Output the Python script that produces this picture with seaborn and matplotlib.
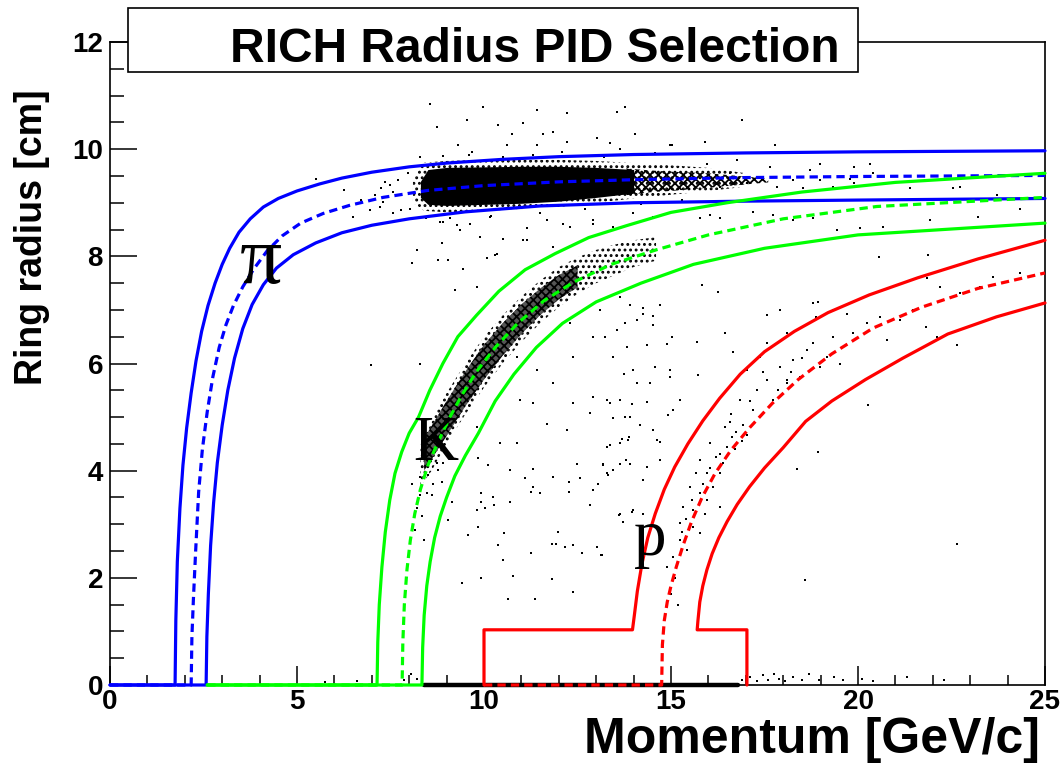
import matplotlib
matplotlib.use("Agg")
import matplotlib.pyplot as plt
from matplotlib.patches import Rectangle
import seaborn as sns

sns.set_theme(style="white")
plt.rcParams["font.family"] = ["Liberation Sans", "DejaVu Sans"]
plt.rcParams["font.weight"] = "bold"
plt.rcParams["text.color"] = "black"
plt.rcParams["xtick.color"] = "black"
plt.rcParams["ytick.color"] = "black"
plt.rcParams["axes.edgecolor"] = "black"
plt.rcParams["hatch.linewidth"] = 1.3
plt.rcParams["hatch.color"] = "black"

# ---------------- selection curves (momentum [GeV/c], ring radius [cm]) ----------------
pi_hi_p = [0, 1.74, 1.76, 1.80, 1.87, 1.95, 2.05, 2.17, 2.30, 2.45, 2.62, 2.81, 3.0, 3.2, 3.45, 3.75,
           4.1, 4.5, 5.0, 5.6, 6.2, 7.0, 8.0, 9.0, 10.5, 12.0, 14.0, 17.0, 20.0, 25.0]
pi_hi_r = [0, 0, 1.2, 2.3, 3.3, 4.1, 4.8, 5.45, 6.05, 6.6, 7.08, 7.5, 7.85, 8.15, 8.45, 8.7,
           8.92, 9.08, 9.22, 9.35, 9.46, 9.57, 9.67, 9.74, 9.81, 9.86, 9.9, 9.93, 9.95, 9.97]
pi_mid_p = [0, 2.17, 2.19, 2.23, 2.29, 2.37, 2.47, 2.6, 2.75, 2.92, 3.1, 3.3, 3.55, 3.85, 4.2, 4.6,
            5.1, 5.7, 6.4, 7.3, 8.5, 10.0, 12.0, 14.0, 17.0, 20.0, 25.0]
pi_mid_r = [0, 0, 0.9, 1.6, 2.5, 3.6, 4.4, 5.1, 5.75, 6.3, 6.72, 7.08, 7.43, 7.77, 8.1, 8.38,
            8.62, 8.8, 8.95, 9.1, 9.23, 9.32, 9.39, 9.43, 9.47, 9.49, 9.51]
pi_lo_p = [0, 2.57, 2.59, 2.63, 2.69, 2.77, 2.87, 3.0, 3.15, 3.33, 3.55, 3.8, 4.1, 4.45, 4.9, 5.5,
           6.2, 7.0, 8.0, 9.5, 11.5, 14.0, 17.0, 20.0, 25.0]
pi_lo_r = [0, 0, 0.9, 1.7, 2.6, 3.4, 4.15, 4.85, 5.5, 6.1, 6.65, 7.1, 7.47, 7.78, 8.03, 8.25,
           8.44, 8.58, 8.7, 8.83, 8.94, 9.0, 9.03, 9.05, 9.08]

k_hi_p = [2.6, 7.14, 7.16, 7.2, 7.27, 7.36, 7.48, 7.62, 7.8, 8.0, 8.25, 8.55, 8.9, 9.3, 9.8, 10.4,
          11.1, 11.9, 12.8, 13.8, 15.0, 16.5, 18.5, 21.0, 25.0]
k_hi_r = [0, 0, 0.8, 1.5, 2.2, 2.85, 3.45, 3.95, 4.35, 4.7, 5.0, 5.5, 6.0, 6.5, 6.9, 7.35,
          7.75, 8.05, 8.35, 8.57, 8.82, 9.0, 9.2, 9.38, 9.55]
k_mid_p = [2.6, 7.81, 7.83, 7.87, 7.94, 8.03, 8.15, 8.3, 8.5, 8.75, 9.05, 9.4, 9.8, 10.3, 10.9,
           11.6, 12.4, 13.4, 14.6, 16.0, 18.0, 20.5, 25.0]
k_mid_r = [0, 0, 0.8, 1.5, 2.15, 2.7, 3.2, 3.65, 4.1, 4.5, 4.95, 5.4, 5.85, 6.3, 6.75,
           7.17, 7.52, 7.85, 8.12, 8.4, 8.7, 8.93, 9.1]
k_lo_p = [2.6, 8.34, 8.36, 8.4, 8.47, 8.56, 8.68, 8.83, 9.0, 9.22, 9.5, 9.85, 10.3, 10.8, 11.4,
          12.1, 13.0, 14.2, 15.6, 17.5, 20.0, 25.0]
k_lo_r = [0, 0, 0.7, 1.3, 1.85, 2.3, 2.75, 3.15, 3.5, 3.9, 4.28, 4.7, 5.3, 5.8, 6.3,
          6.75, 7.15, 7.5, 7.85, 8.15, 8.4, 8.62]

p_hi_p = [10.0, 10.0, 13.97, 14.02, 14.1, 14.22, 14.38, 14.58, 14.82, 15.1, 15.45, 15.85, 16.3,
          16.85, 17.5, 18.3, 19.2, 20.3, 21.6, 23.2, 25.0]
p_hi_r = [0, 1.03, 1.03, 1.3, 1.75, 2.25, 2.75, 3.2, 3.65, 4.07, 4.5, 4.93, 5.35,
          5.8, 6.22, 6.6, 6.95, 7.28, 7.6, 7.95, 8.3]
p_mid_p = [10.0, 14.75, 14.77, 14.82, 14.9, 15.0, 15.14, 15.32, 15.55, 15.83, 16.18, 16.6, 17.1,
           17.7, 18.4, 19.3, 20.4, 21.7, 23.2, 25.0]
p_mid_r = [0, 0, 0.75, 1.2, 1.55, 1.85, 2.2, 2.6, 3.05, 3.5, 3.95, 4.38, 4.8,
           5.25, 5.7, 6.18, 6.66, 7.05, 7.4, 7.69]
p_lo_p = [17.03, 17.03, 15.70, 15.72, 15.77, 15.85, 15.96, 16.1, 16.28, 16.5, 16.77, 17.1, 17.5,
          18.0, 18.6, 19.3, 20.2, 21.2, 22.4, 23.7, 25.0]
p_lo_r = [0, 1.03, 1.03, 1.2, 1.55, 1.85, 2.15, 2.45, 2.75, 3.05, 3.37, 3.7, 4.05,
          4.43, 4.92, 5.3, 5.7, 6.1, 6.55, 6.87, 7.13]

# ---------------- dense event bands ----------------
pion_core_p = [8.3, 8.5, 9.0, 10.0, 11.0, 12.0, 13.0, 14.0]
pion_core_lo = [9.1, 8.97, 8.95, 8.97, 8.99, 9.03, 9.1, 9.18]
pion_core_hi = [9.4, 9.62, 9.66, 9.67, 9.68, 9.68, 9.66, 9.62]
pion_tail_p = [13.8, 14.5, 15.0, 16.0, 16.8, 17.6]
pion_tail_lo = [9.14, 9.2, 9.22, 9.28, 9.33, 9.38]
pion_tail_hi = [9.64, 9.6, 9.58, 9.55, 9.5, 9.45]
pion_halo_p = [8.1, 8.4, 9.0, 10.0, 11.0, 12.0, 13.0, 14.0, 15.0, 16.0, 17.0]
pion_halo_lo = [9.0, 8.85, 8.82, 8.85, 8.88, 8.92, 9.0, 9.08, 9.15, 9.22, 9.3]
pion_halo_hi = [9.45, 9.75, 9.78, 9.8, 9.8, 9.8, 9.78, 9.74, 9.7, 9.65, 9.55]

kaon_band_p = [8.3, 8.6, 9.0, 9.5, 10.0, 10.5, 11.0, 11.5, 12.0, 12.5, 13.0, 13.5, 14.0, 14.6]
kaon_band_lo = [3.7, 4.0, 4.5, 5.05, 5.55, 6.0, 6.4, 6.75, 7.05, 7.3, 7.5, 7.65, 7.8, 7.92]
kaon_band_hi = [4.5, 4.95, 5.45, 6.0, 6.5, 6.9, 7.25, 7.55, 7.8, 7.98, 8.12, 8.22, 8.3, 8.36]
kaon_core_p = [8.4, 9.0, 9.5, 10.0, 10.5, 11.0, 11.5, 12.0, 12.5]
kaon_core_lo = [4.0, 4.65, 5.2, 5.7, 6.15, 6.55, 6.9, 7.2, 7.42]
kaon_core_hi = [4.6, 5.3, 5.85, 6.35, 6.75, 7.1, 7.4, 7.65, 7.83]

# events with no reconstructed ring
no_ring_span = [8.4, 16.8]

# ---------------- individual events ----------------
upper_events = [
    (8.56, 10.85), (9.98, 10.79), (11.41, 10.73), (12.21, 10.67), (13.55, 10.70), (13.77, 10.79),
    (16.89, 10.54), (8.73, 10.42), (9.54, 10.54), (10.38, 10.45), (11.05, 10.48), (11.85, 10.32),
    (10.74, 10.29), (11.59, 10.29), (14.04, 10.29), (13.01, 10.20), (10.61, 10.07), (11.41, 10.07),
    (12.21, 10.14), (13.37, 10.11), (14.97, 10.07), (15.91, 10.14), (17.78, 10.07), (9.31, 10.07),
    (9.67, 9.95), (12.08, 9.95), (13.64, 10.01), (14.57, 9.92), (15.02, 10.07), (20.32, 9.73),
    (19.88, 9.67), (22.73, 9.30), (23.71, 9.14),
]
pion_events = [
    (15.96, 9.73), (16.58, 9.55), (17.03, 9.36), (17.38, 9.48), (17.83, 9.30), (18.27, 9.42),
    (18.72, 9.61), (18.99, 9.42), (19.34, 9.30), (19.88, 9.36), (20.41, 9.55), (20.95, 9.36),
    (21.39, 9.27), (22.55, 9.27), (17.65, 9.67), (18.54, 9.27), (16.31, 9.30), (16.76, 9.80),
    (19.79, 9.45), (18.99, 9.73), (5.52, 9.45), (6.27, 9.23), (6.50, 8.74), (6.72, 9.05),
    (6.94, 8.86), (7.08, 9.14), (7.25, 9.27), (7.34, 9.39), (7.48, 9.33), (7.70, 9.42),
    (7.79, 8.86), (7.97, 9.55), (8.01, 8.89), (7.57, 9.20), (7.30, 9.02), (8.3, 9.85),
    (8.9, 9.88), (9.6, 9.9), (10.5, 9.86), (11.3, 9.9), (12.5, 9.87), (13.2, 9.85),
    (9.1, 8.72), (10.2, 8.75), (11.5, 8.8), (12.7, 8.88), (14.2, 8.98), (15.3, 9.05), (8.45, 8.72),
]
middle_events = [
    (8.82, 8.64), (9.27, 8.58), (10.16, 8.74), (11.14, 8.52), (11.68, 8.67), (12.30, 8.55),
    (9.89, 8.36), (8.87, 8.24), (10.34, 8.05), (11.14, 8.30), (11.85, 8.18), (8.20, 8.12),
    (8.78, 7.93), (9.22, 7.37), (9.80, 7.43), (8.07, 7.87), (12.92, 8.61), (13.46, 8.55),
    (13.99, 8.80), (14.53, 8.74), (15.78, 8.71), (9.05, 7.93), (9.45, 7.77), (10.07, 7.96),
    (10.29, 8.02), (10.52, 8.33), (11.05, 8.30), (9.36, 8.49), (8.91, 8.64), (9.62, 8.61),
    (12.12, 8.61), (12.92, 8.68), (7.22, 8.92), (7.58, 8.80), (6.99, 5.97), (8.29, 6.00),
    (24.34, 8.89), (23.22, 8.74), (21.93, 8.67), (20.68, 8.55), (20.06, 8.52), (19.43, 8.49),
    (18.81, 8.71), (18.27, 8.67), (17.74, 8.77), (17.20, 8.83), (16.31, 8.71), (16.05, 8.77),
    (20.55, 7.99), (21.88, 8.02), (15.82, 7.46), (16.27, 7.34), (18.81, 7.12), (18.94, 7.15),
    (17.92, 6.99), (17.56, 6.90), (15.02, 6.50), (15.69, 6.40), (16.45, 6.56), (16.67, 6.22),
    (14.58, 5.94), (14.98, 5.75), (13.82, 6.31), (13.73, 5.81), (13.95, 5.25), (14.93, 5.04),
    (14.17, 4.85), (14.62, 4.57), (13.86, 4.57), (12.30, 6.75), (13.10, 7.00), (13.64, 7.24),
    (14.26, 6.93), (14.53, 6.72), (14.88, 6.37), (12.92, 6.50), (13.46, 6.13), (13.99, 5.88),
    (14.44, 5.63), (14.97, 5.88), (12.39, 6.12), (11.85, 5.63), (12.39, 5.26), (12.92, 5.38),
    (13.37, 5.26), (13.90, 5.00), (14.53, 4.76), (15.06, 5.13), (11.32, 5.26), (10.96, 5.32),
    (11.68, 4.88), (12.21, 4.76), (12.83, 5.07), (13.28, 4.45), (13.81, 4.20), (12.48, 4.13),
    (11.85, 3.89), (11.32, 3.70), (10.69, 4.01), (10.43, 4.51), (9.80, 4.82), (10.25, 3.51),
    (10.87, 4.51), (12.92, 3.64), (13.46, 4.01), (14.26, 3.82), (14.70, 4.20), (11.41, 5.88),
    (10.87, 6.13), (13.90, 7.09), (14.26, 7.03), (14.70, 7.09), (14.53, 6.88), (13.23, 6.50),
    (13.55, 6.62), (14.08, 6.81), (13.77, 6.75), (14.35, 6.34), (14.08, 5.63), (15.73, 5.78),
    (13.28, 5.32), (13.63, 5.32), (14.35, 5.29), (15.24, 5.32), (13.46, 4.98), (13.77, 5.01),
    (13.88, 4.63), (13.68, 4.60), (14.70, 4.54), (13.37, 4.48), (13.63, 4.51), (13.19, 4.13),
    (13.63, 4.13), (13.90, 4.13), (14.35, 4.07), (13.28, 3.95),
]
lower_events = [
    (13.63, 3.20), (13.99, 3.27), (14.26, 3.20), (13.14, 2.43), (9.85, 4.23), (10.12, 4.10),
    (11.32, 4.04), (11.10, 3.86), (11.50, 3.58), (11.27, 3.61), (12.28, 3.79), (12.28, 3.61),
    (12.57, 3.86), (13.06, 3.76), (13.19, 4.10), (13.32, 3.92), (12.83, 3.36), (13.62, 3.17),
    (13.97, 3.23), (13.72, 3.05), (9.92, 3.58), (9.92, 3.42), (10.03, 3.30), (9.80, 3.27),
    (10.28, 3.36), (10.69, 3.42), (9.85, 2.95), (10.54, 2.83), (9.56, 2.80), (10.38, 2.61),
    (11.81, 2.64), (11.92, 2.64), (11.99, 2.86), (12.17, 2.58), (12.39, 2.61), (12.61, 2.46),
    (13.01, 2.58), (13.15, 2.43), (11.25, 2.46), (10.50, 2.33), (9.40, 1.90), (9.91, 2.00),
    (10.78, 2.03), (11.83, 1.97), (12.39, 1.74), (10.64, 1.60), (11.36, 1.60), (9.14, 3.42),
    (9.05, 3.08), (8.07, 3.76), (8.29, 3.89), (8.51, 3.92), (8.64, 3.76), (8.87, 3.79),
    (8.29, 3.54), (8.47, 3.58), (8.60, 3.54), (8.78, 4.01), (8.91, 4.14), (8.73, 4.14),
    (8.2, 3.3), (8.35, 3.15), (8.15, 2.9), (8.4, 2.7), (18.09, 5.69), (20.27, 5.22),
    (22.64, 6.34), (18.94, 4.35), (18.36, 4.04), (18.58, 1.96), (22.64, 2.64), (22.10, 6.50),
]
proton_events = [
    (16.44, 4.82), (16.58, 4.91), (16.75, 4.73), (16.93, 4.85), (17.02, 4.66), (16.62, 4.63),
    (16.49, 4.45), (16.31, 4.32), (16.04, 4.51), (15.77, 4.20), (15.68, 3.95), (15.95, 3.95),
    (16.31, 3.95), (15.51, 3.70), (15.77, 3.58), (16.13, 3.70), (15.33, 3.33), (15.60, 3.27),
    (15.95, 3.45), (16.31, 3.33), (15.24, 3.02), (15.60, 2.95), (15.77, 2.83), (15.42, 2.52),
    (16.10, 2.45), (14.88, 2.21), (15.06, 2.39), (16.84, 5.32), (17.20, 5.13), (17.29, 5.50),
    (17.56, 5.69), (17.73, 5.32), (17.91, 5.94), (18.09, 5.63), (18.27, 6.06), (18.45, 5.75),
    (18.63, 6.25), (18.81, 6.38), (18.98, 5.94), (19.16, 6.13), (19.34, 6.50), (19.52, 6.00),
    (19.70, 6.93), (19.87, 6.56), (20.23, 6.75), (20.59, 6.87), (20.77, 6.44), (21.12, 6.81),
    (21.48, 7.00), (21.83, 6.69), (17.38, 6.13), (17.56, 6.38), (17.02, 5.88), (18.09, 6.56),
    (16.67, 5.63), (18.89, 6.87), (19.34, 7.00), (21.84, 7.59), (22.20, 7.43), (22.73, 7.31),
    (23.27, 7.43), (23.62, 7.62), (24.34, 7.68), (15.4, 3.1), (15.55, 3.45), (15.85, 3.75),
    (16.05, 4.05), (16.2, 4.25), (16.4, 4.15), (16.7, 4.4), (16.9, 4.55), (15.25, 2.7),
    (15.3, 2.85), (15.9, 3.2), (16.6, 5.05), (17.1, 5.3), (17.45, 5.85), (17.85, 5.5),
    (18.2, 5.85), (18.5, 6.1), (15.1, 2.0), (15.0, 1.7), (15.2, 1.5),
]
zero_events = [
    (5.75, 0.06), (6.6, 0.08), (7.85, 0.1), (8.05, 0.2), (8.2, 0.12), (16.9, 0.1), (17.1, 0.15),
    (17.3, 0.08), (17.45, 0.18), (17.6, 0.1), (17.75, 0.2), (17.9, 0.12), (18.05, 0.08),
    (18.25, 0.15), (18.5, 0.1), (18.7, 0.2), (18.95, 0.1), (19.35, 0.15), (19.6, 0.1),
    (20.1, 0.12), (20.4, 0.08), (21.3, 0.15), (22.3, 0.1),
]

# ---------------- figure ----------------
fig = plt.figure(figsize=(10.64, 7.66), dpi=100)
fig.patch.set_facecolor("white")
ax = fig.add_axes([110 / 1064, 1 - 685 / 766, 935 / 1064, 643 / 766])
ax.set_facecolor("white")

# dense bands
ax.fill_between(pion_halo_p, pion_halo_lo, pion_halo_hi, facecolor="none",
                edgecolor="black", hatch="...", linewidth=0, zorder=1)
ax.fill_between(pion_core_p, pion_core_lo, pion_core_hi, color="black", linewidth=0, zorder=1)
ax.fill_between(pion_tail_p, pion_tail_lo, pion_tail_hi, facecolor="none",
                edgecolor="black", hatch="xxxx", linewidth=0, zorder=1)
ax.fill_between(kaon_band_p, kaon_band_lo, kaon_band_hi, facecolor="none",
                edgecolor="black", hatch="...", linewidth=0, zorder=1)
ax.fill_between(kaon_core_p, kaon_core_lo, kaon_core_hi, facecolor="#555555",
                edgecolor="black", hatch="xxxx", linewidth=0, zorder=1)

# individual events
for events in (upper_events, pion_events, middle_events, lower_events, proton_events, zero_events):
    ev_p, ev_r = zip(*events)
    sns.scatterplot(x=list(ev_p), y=list(ev_r), s=3.2, marker="s", color="black",
                    linewidth=0, ax=ax, zorder=2, clip_on=False)
sns.lineplot(x=no_ring_span, y=[0.0, 0.0], color="black", lw=3.2, ax=ax,
             zorder=2.5, clip_on=False)

# selection curves
dash = (0, (2.6, 1.6))
curves = [
    (pi_hi_p, pi_hi_r, "#0000ff", "-"), (pi_mid_p, pi_mid_r, "#0000ff", dash), (pi_lo_p, pi_lo_r, "#0000ff", "-"),
    (k_hi_p, k_hi_r, "#00ff00", "-"), (k_mid_p, k_mid_r, "#00ff00", dash), (k_lo_p, k_lo_r, "#00ff00", "-"),
    (p_hi_p, p_hi_r, "#ff0000", "-"), (p_mid_p, p_mid_r, "#ff0000", dash), (p_lo_p, p_lo_r, "#ff0000", "-"),
]
for order, (cp, cr, col, ls) in enumerate(curves):
    sns.lineplot(x=cp, y=cr, sort=False, estimator=None, color=col, linestyle=ls,
                 lw=2.3, ax=ax, zorder=3 + order * 0.01, clip_on=False)

# particle labels
serif = ["Liberation Serif", "DejaVu Serif"]
ax.text(3.48, 7.5, "π", family=serif, fontsize=60, fontweight="normal", ha="left", va="baseline", zorder=5)
ax.text(8.1, 4.2, "K", family=serif, fontsize=45, fontweight="normal", ha="left", va="baseline", zorder=5)
ax.text(14.0, 2.43, "p", family=serif, fontsize=47, fontweight="normal", ha="left", va="baseline", zorder=5)

# axes in the ROOT frame style
ax.set_xlim(0, 25)
ax.set_ylim(0, 12)
ax.set_xticks([0, 5, 10, 15, 20, 25])
ax.set_xticks([v for v in range(26) if v % 5], minor=True)
ax.set_yticks([0, 2, 4, 6, 8, 10, 12])
ax.set_yticks([v * 0.5 for v in range(25) if v % 4], minor=True)
ax.tick_params(axis="both", which="both", direction="in", top=False, right=False,
               left=True, bottom=True, colors="black", width=1.1, labelsize=20)
ax.tick_params(axis="y", which="major", length=19.5, pad=5)
ax.tick_params(axis="y", which="minor", length=10)
ax.tick_params(axis="x", which="major", length=14, pad=3)
ax.tick_params(axis="x", which="minor", length=7.2)
for lab in ax.get_xticklabels() + ax.get_yticklabels():
    lab.set_fontweight("bold")
    lab.set_color("black")
for side, sp in ax.spines.items():
    sp.set_color("black")
    sp.set_linewidth(1.2)
ax.set_xlabel("")
ax.set_ylabel("")

fig.text(1040 / 1064, 1 - 753 / 766, "Momentum [GeV/c]", ha="right", va="baseline",
         fontsize=36, fontweight="bold", color="black")
fig.text(32 / 1064, 1 - 237 / 766, "Ring radius [cm]", ha="center", va="center",
         rotation=90, fontsize=27, fontweight="bold", color="black")

# title pave
fig.add_artist(Rectangle((128 / 1064, 1 - 72 / 766), 730 / 1064, 64 / 766,
                         transform=fig.transFigure, facecolor="white",
                         edgecolor="black", linewidth=1.2, zorder=10))
fig.text(535 / 1064, 1 - 62 / 766, "RICH Radius PID Selection", ha="center",
         va="baseline", fontsize=34.5, fontweight="bold", color="black", zorder=11)

fig.savefig("out.png", dpi=100, facecolor="white")
